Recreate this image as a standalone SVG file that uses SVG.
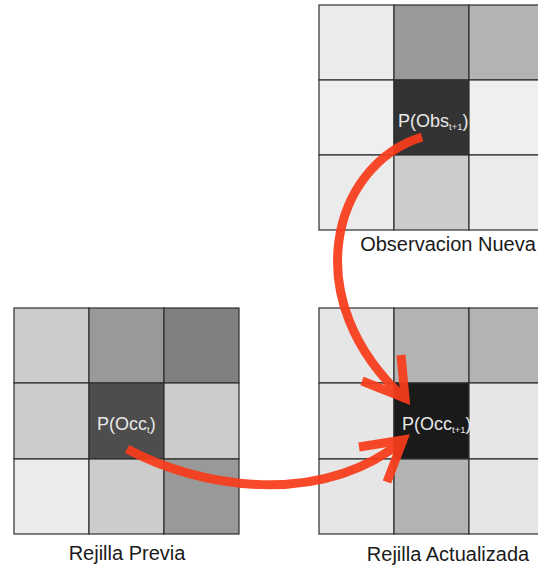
<svg xmlns="http://www.w3.org/2000/svg" width="538" height="567" viewBox="0 0 538 567">
  <style>
    .cell { stroke: #2e2e2e; stroke-width: 1.2; }
    .lbl { font-family: "Liberation Sans", Arial, sans-serif; font-size: 20px; fill: #1a1a1a; text-anchor: middle; }
    .in { font-family: "Liberation Sans", Arial, sans-serif; font-size: 18px; fill: #e8e8e8; }
    .sub { font-size: 9.5px; }
    .arr { fill: none; stroke: #f83c1a; stroke-width: 9; stroke-linecap: butt; stroke-linejoin: miter; stroke-miterlimit: 10; }
  </style>
  <rect width="538" height="567" fill="#ffffff"/>

  <!-- observation grid (top right) -->
  <g id="obs-grid">
    <rect class="cell" x="319" y="5" width="75" height="75" fill="#ebebeb"/>
    <rect class="cell" x="394" y="5" width="75" height="75" fill="#999999"/>
    <rect class="cell" x="469" y="5" width="75" height="75" fill="#b3b3b3"/>
    <rect class="cell" x="319" y="80" width="75" height="75" fill="#efefef"/>
    <rect class="cell" x="394" y="80" width="75" height="75" fill="#333333"/>
    <rect class="cell" x="469" y="80" width="75" height="75" fill="#efefef"/>
    <rect class="cell" x="319" y="155" width="75" height="75" fill="#ebebeb"/>
    <rect class="cell" x="394" y="155" width="75" height="75" fill="#cccccc"/>
    <rect class="cell" x="469" y="155" width="75" height="75" fill="#ebebeb"/>
    <text class="in" x="398" y="127">P(Obs<tspan class="sub" dy="3">t+1</tspan><tspan dy="-3">)</tspan></text>
    <text class="lbl" x="448" y="250.5">Observacion Nueva</text>
  </g>

  <!-- previous grid (bottom left) -->
  <g id="prev-grid">
    <rect class="cell" x="14" y="308" width="75" height="75" fill="#cccccc"/>
    <rect class="cell" x="89" y="308" width="75" height="75" fill="#999999"/>
    <rect class="cell" x="164" y="308" width="75" height="75" fill="#808080"/>
    <rect class="cell" x="14" y="383" width="75" height="76" fill="#cccccc"/>
    <rect class="cell" x="89" y="383" width="75" height="76" fill="#4d4d4d"/>
    <rect class="cell" x="164" y="383" width="75" height="76" fill="#cccccc"/>
    <rect class="cell" x="14" y="459" width="75" height="75" fill="#ebebeb"/>
    <rect class="cell" x="89" y="459" width="75" height="75" fill="#cccccc"/>
    <rect class="cell" x="164" y="459" width="75" height="75" fill="#999999"/>
    <text class="in" x="97" y="430">P(Occ<tspan class="sub" dy="3">t</tspan><tspan dy="-3">)</tspan></text>
    <text class="lbl" x="127" y="560">Rejilla Previa</text>
  </g>

  <!-- updated grid (bottom right) -->
  <g id="updated-grid">
    <rect class="cell" x="319" y="308" width="75" height="75" fill="#e6e6e6"/>
    <rect class="cell" x="394" y="308" width="75" height="75" fill="#b3b3b3"/>
    <rect class="cell" x="469" y="308" width="75" height="75" fill="#b3b3b3"/>
    <rect class="cell" x="319" y="383" width="75" height="76" fill="#e6e6e6"/>
    <rect class="cell" x="394" y="383" width="75" height="76" fill="#1a1a1a"/>
    <rect class="cell" x="469" y="383" width="75" height="76" fill="#e6e6e6"/>
    <rect class="cell" x="319" y="459" width="75" height="75" fill="#e6e6e6"/>
    <rect class="cell" x="394" y="459" width="75" height="75" fill="#b3b3b3"/>
    <rect class="cell" x="469" y="459" width="75" height="75" fill="#e6e6e6"/>
    <text class="in" x="402" y="429.5">P(Occ<tspan class="sub" dy="3">t+1</tspan><tspan dy="-3">)</tspan></text>
    <text class="lbl" x="448" y="560.5">Rejilla Actualizada</text>
  </g>

  <!-- connectors -->
  <g id="connectors">
    <g opacity="0.93">
      <path class="arr" d="M422,137 C332,165 296,300 405,399"/>
      <polyline class="arr" points="401,355 405,398 362,381"/>
    </g>
    <g opacity="0.93">
      <path class="arr" d="M127,449 C200,488 320,508 404,440"/>
      <polyline class="arr" points="359,447 403,440 387,482"/>
    </g>
  </g>
</svg>
